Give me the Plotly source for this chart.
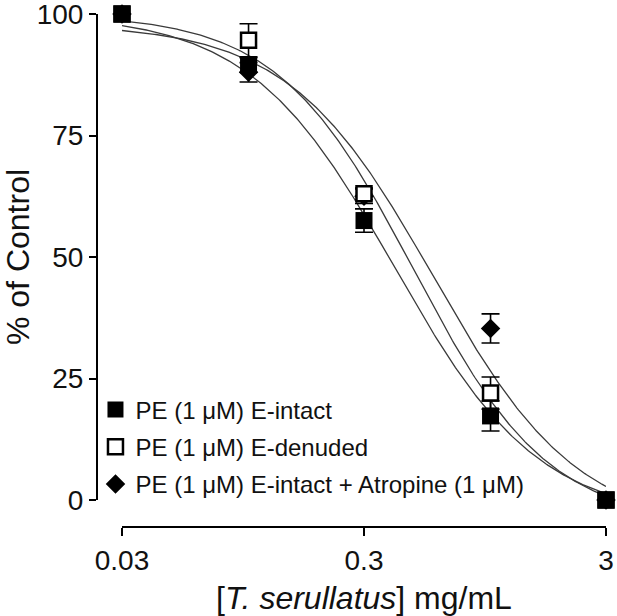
import numpy as np
import plotly.graph_objects as go

# ---- data ----
conc = [0.03, 0.1, 0.3, 1.0, 3.0]

intact = [100, 89.5, 57.5, 17.3, 0]
intact_err = [0, 1.5, 2.4, 3.1, 0]

denuded = [100, 94.6, 63.0, 22.0, 0]
denuded_err = [0, 3.4, 1.2, 3.3, 0]

atropine = [100, 88.0, 62.5, 35.3, 0]
atropine_err = [0, 2.0, 1.5, 3.0, 0]

# fitted sigmoid (4-parameter logistic) parameters, estimated from the drawn curves
fit_top = {"intact": 100, "denuded": 100, "atropine": 98}
fit_bottom = {"intact": -4, "denuded": -5, "atropine": -6}
fit_ic50 = {"intact": 0.40, "denuded": 0.48, "atropine": 0.58}
fit_hill = {"intact": 1.45, "denuded": 1.55, "atropine": 1.45}

x_ticks = [0.03, 0.3, 3]
x_ticklabels = ["0.03", "0.3", "3"]
y_ticks = [0, 25, 50, 75, 100]

legend_names = {
    "intact": "PE (1 μM) E-intact",
    "denuded": "PE (1 μM) E-denuded",
    "atropine": "PE (1 μM) E-intact + Atropine (1 μM)",
}

W, H = 617, 616
FONT = "Liberation Sans, Arial, sans-serif"


def hill_curve(key, xs):
    t, b, ic, h = fit_top[key], fit_bottom[key], fit_ic50[key], fit_hill[key]
    return b + (t - b) / (1 + (xs / ic) ** h)


xs = np.logspace(np.log10(conc[0]), np.log10(conc[-1]), 300)

fig = go.Figure()

for key in ["intact", "denuded", "atropine"]:
    fig.add_trace(go.Scatter(
        x=xs, y=hill_curve(key, xs), mode="lines",
        line=dict(color="#3a3a3a", width=1.3),
        showlegend=False, hoverinfo="skip", cliponaxis=False,
    ))

err_style = dict(type="data", visible=True, color="black", thickness=1.6, width=9)

fig.add_trace(go.Scatter(
    x=conc, y=atropine, mode="markers", name=legend_names["atropine"],
    error_y=dict(array=atropine_err, **err_style),
    marker=dict(symbol="diamond", size=15, color="black", line=dict(width=0)),
    cliponaxis=False, legendrank=3, legendgroup="c",
))
fig.add_trace(go.Scatter(
    x=conc, y=denuded, mode="markers", name=legend_names["denuded"],
    error_y=dict(array=denuded_err, **err_style),
    marker=dict(symbol="square", size=15, color="white",
                line=dict(width=2.5, color="black")),
    cliponaxis=False, legendrank=2, legendgroup="b",
))
fig.add_trace(go.Scatter(
    x=conc, y=intact, mode="markers", name=legend_names["intact"],
    error_y=dict(array=intact_err, **err_style),
    marker=dict(symbol="square", size=17, color="black", line=dict(width=0)),
    cliponaxis=False, legendrank=1, legendgroup="a",
))

L, R, T, B = 97, 11, 14, 89
pw = W - L - R
ph = H - T - B

fig.update_layout(
    width=W, height=H,
    margin=dict(l=L, r=R, t=T, b=B, pad=0, autoexpand=False),
    paper_bgcolor="white", plot_bgcolor="white",
    font=dict(family=FONT, color="black", size=24),
    showlegend=True,
    legend=dict(
        x=-0.003, y=0.04, xanchor="left", yanchor="bottom",
        bgcolor="rgba(0,0,0,0)", borderwidth=0,
        font=dict(size=24, family=FONT, color="#111"),
        traceorder="grouped", tracegroupgap=3,
    ),
    xaxis=dict(
        type="log", range=[np.log10(conc[0]), np.log10(conc[-1])],
        domain=[25 / pw, 1],
        anchor="free", position=0, automargin=False,
        tickvals=x_ticks, ticktext=x_ticklabels,
        ticks="outside", ticklen=8, tickwidth=2, tickcolor="black",
        showline=True, linewidth=2, linecolor="black",
        showgrid=False, zeroline=False, ticklabeloverflow="allow",
        tickfont=dict(size=28, family=FONT, color="#111"),
        title=dict(text="[<i>T. serullatus</i>] mg/mL",
                   font=dict(size=32, family=FONT, color="#111"), standoff=15),
    ),
    yaxis=dict(
        range=[0, 100],
        domain=[27 / ph, 1],
        anchor="free", position=0, automargin=False,
        tickvals=y_ticks,
        ticks="outside", ticklen=7, tickwidth=2, tickcolor="black",
        showline=True, linewidth=2, linecolor="black",
        showgrid=False, zeroline=False, ticklabeloverflow="allow",
        tickfont=dict(size=28, family=FONT, color="#111"),
        title=dict(text="% of Control", font=dict(size=32, family=FONT, color="#111"),
                   standoff=10),
    ),
)

fig.write_html("out.html")
